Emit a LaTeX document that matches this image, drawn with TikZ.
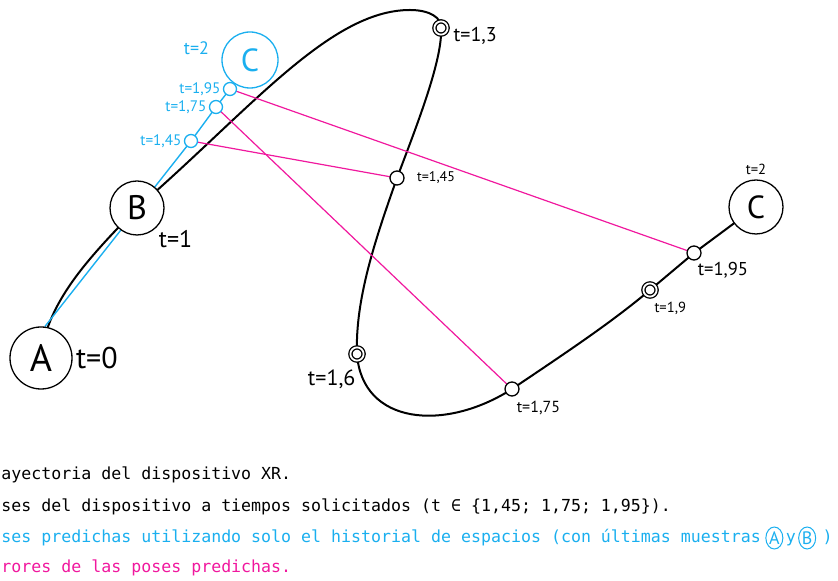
\documentclass[tikz,border=0pt]{standalone}
\usepackage{fontspec}
\setmainfont{PT Sans}
\newfontfamily\legendfont{DejaVu Sans Mono}
\usepackage{tikz}
\usetikzlibrary{
  positioning,
  shapes.geometric,
  backgrounds
}
\definecolor{predcyan}{HTML}{1AAFEF}
\definecolor{errpink}{HTML}{F0189E}

\begin{document}
\begin{tikzpicture}[
  x=0.5pt, y=-0.5pt,
  pose/.style={draw, circle, fill=white, line width=0.65pt, inner sep=0pt},
  sample/.style={draw, circle, fill=white, line width=0.65pt,
    minimum size=7pt, inner sep=0pt},
  keysample/.style={draw, circle, fill=white, double, double distance=0.9pt,
    line width=0.65pt, minimum size=6.6pt, inner sep=0pt},
  tlab/.style={inner sep=0pt},
  traj/.style={line width=1pt, line cap=round},
  predline/.style={predcyan, line width=0.7pt},
  errline/.style={errpink, line width=0.6pt},
  legend/.style={anchor=west, inner sep=0pt,
    font=\legendfont\fontsize{8.3}{10}\selectfont},
  keymark/.style={ellipse, draw=predcyan, text=predcyan, line width=0.5pt,
    inner sep=0pt, minimum width=8.5pt, minimum height=11pt,
    font=\fontsize{9}{9}\selectfont},
]
\useasboundingbox (0,0) rectangle (838,581);

% poses known to the device
\node[pose, minimum size=31pt, font=\fontsize{19}{19}\selectfont] (A) at (41,358) {A};
\node[pose, minimum size=27pt, font=\fontsize{17}{17}\selectfont] (B) at (137,208) {B};
\node[pose, minimum size=27pt, font=\fontsize{16}{16}\selectfont] (Cend) at (756,207) {C};
\node[pose, draw=predcyan, text=predcyan, minimum size=28pt, font=\fontsize{16}{16}\selectfont] (Cpred) at (250,60) {C};

% samples along the real trajectory
\node[keysample] (t13) at (441,28) {};
\node[sample] (t145) at (397,178) {};
\node[keysample] (t16) at (357,354) {};
\node[sample] (t175) at (512,389) {};
\node[keysample] (t19) at (650,290) {};
\node[sample] (t195) at (694,253) {};

% predicted samples
\node[sample, draw=predcyan, minimum size=6.5pt] (c145) at (191,141) {};
\node[sample, draw=predcyan, minimum size=6.5pt] (c175) at (216,107) {};
\node[sample, draw=predcyan, minimum size=6.5pt] (c195) at (230,89) {};

% time labels
\node[tlab, font=\fontsize{15}{15}\selectfont, right=1.5pt of A] (l0) {t=0};
\node[tlab, font=\fontsize{12}{12}\selectfont, below right=1pt and 1pt of B] (l1) {t=1};
\node[tlab, font=\fontsize{10}{10}\selectfont, right=2.5pt of t13, yshift=-4pt] (l13) {t=1,3};
\node[tlab, font=\fontsize{7}{7}\selectfont, right=6pt of t145] (l145) {t=1,45};
\node[tlab, font=\fontsize{11}{11}\selectfont, below left=5pt and -2pt of t16] (l16) {t=1,6};
\node[tlab, font=\fontsize{8}{8}\selectfont, below right=3pt and -0.5pt of t175] (l175) {t=1,75};
\node[tlab, font=\fontsize{7.3}{7.3}\selectfont, below right=3.5pt and -0.5pt of t19] (l19) {t=1,9};
\node[tlab, font=\fontsize{9.3}{9.3}\selectfont, below right=1.5pt and -1pt of t195] (l195) {t=1,95};
\node[tlab, font=\fontsize{7.3}{7.3}\selectfont, above=2pt of Cend] (l2) {t=2};

\node[tlab, predcyan, font=\fontsize{9}{9}\selectfont, left=6pt of Cpred, yshift=6pt] (p2) {t=2};
\node[tlab, predcyan, font=\fontsize{7.6}{7.6}\selectfont, left=1pt of c195] (p195) {t=1,95};
\node[tlab, predcyan, font=\fontsize{7.6}{7.6}\selectfont, left=1pt of c175] (p175) {t=1,75};
\node[tlab, predcyan, font=\fontsize{7.6}{7.6}\selectfont, left=1pt of c145] (p145) {t=1,45};

\begin{scope}[on background layer]
  \draw[traj] (A.center) .. controls (46,300) and (95,252) .. (B.center)
    .. controls (250,110) and (330,10) .. (410,10)
    .. controls (430,10) and (442,18) .. (t13.center)
    .. controls (443,60) and (415,130) .. (t145.center)
    .. controls (375,240) and (355,300) .. (t16.center)
    .. controls (362,425) and (445,432) .. (t175.center)
    .. controls (570,350) and (612,322) .. (t19.center)
    -- (t195.center) -- (Cend.center);
  \draw[predline] (A.83) -- (c145.center) -- (c175.center)
    -- (c195.center) -- (Cpred.center);
  \draw[errline] (c145.center) -- (t145.center);
  \draw[errline] (c175.center) -- (t175.center);
  \draw[errline] (c195.center) -- (t195.center);
\end{scope}

% legend
\node[legend] (leg1) at (1,475) {ayectoria del dispositivo XR.};
\node[legend] (leg2) at (1,507) {ses del dispositivo a tiempos solicitados (t ∈ \{1,45; 1,75; 1,95\}).};
\node[legend, text=predcyan] (leg3) at (1,538) {ses predichas utilizando solo el historial de espacios (con últimas muestras};
\node[keymark, right=2pt of leg3] (keyA) {A};
\node[legend, text=predcyan, anchor=base west, xshift=1pt] (keyy) at (keyA.east |- leg3.base) {y};
\node[keymark, right=1pt of keyA.east -| keyy.east] (keyB) {B};
\node[legend, text=predcyan, anchor=base west, xshift=3pt] (keyend) at (keyB.east |- leg3.base) {)};
\node[legend, text=errpink] (leg4) at (1,568) {rores de las poses predichas.};

\end{tikzpicture}
\end{document}
